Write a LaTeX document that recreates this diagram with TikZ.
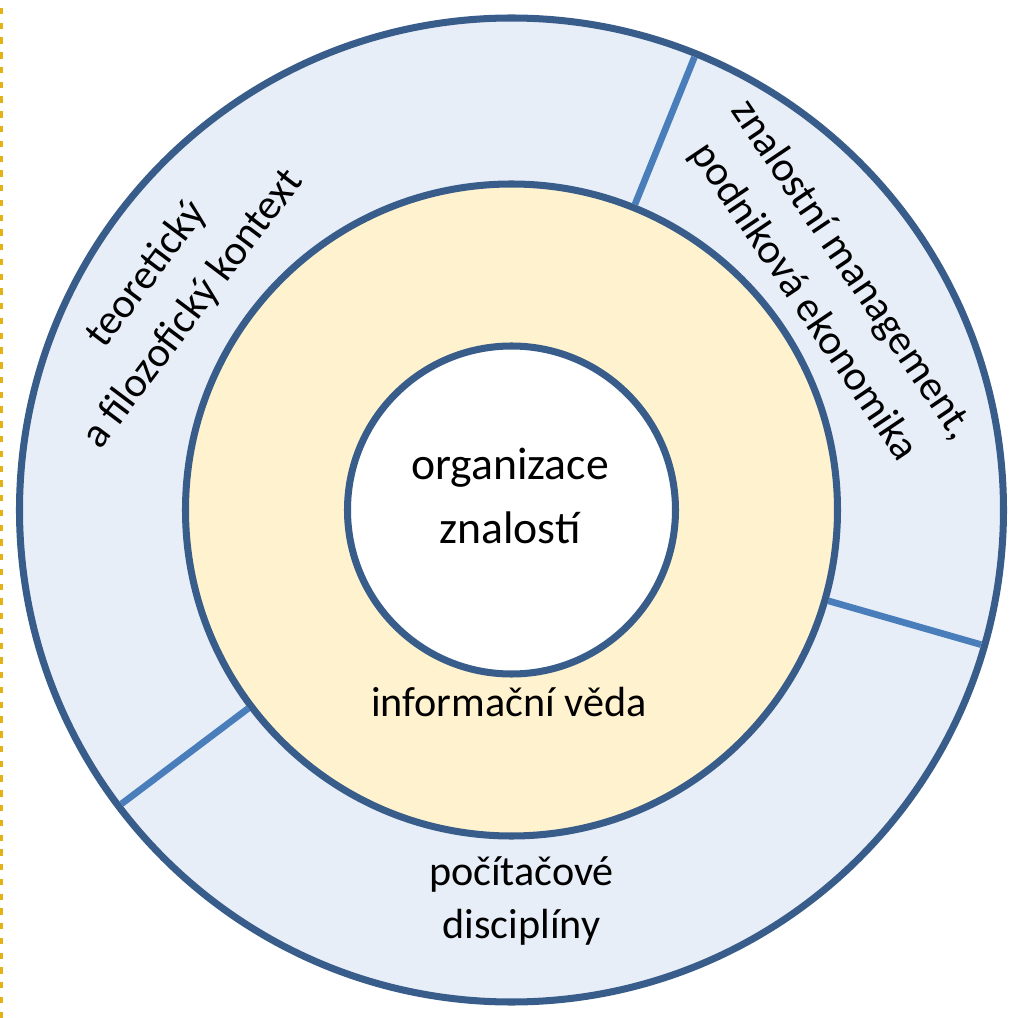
\documentclass[tikz,border=0pt]{standalone}
\usepackage{fontspec}
\setsansfont{Carlito}
\usepackage{tikz}
\usetikzlibrary{shapes}
\definecolor{ring_blue}{RGB}{56,93,138}
\definecolor{divider_blue}{RGB}{74,126,187}
\definecolor{lightblue}{RGB}{232,238,248}
\definecolor{lightyellow}{RGB}{255,242,206}
\definecolor{frame_gold}{RGB}{228,178,20}

\begin{document}
\begin{tikzpicture}
    \sffamily
    \tikzstyle{ring}=[draw=ring_blue, circle, line width=2pt, inner sep=0pt, outer sep=0pt]
    \tikzstyle{divider}=[draw=divider_blue, line width=1.9pt, shorten <=1pt, shorten >=1pt]
    \tikzstyle{txt}=[text=black, align=center, inner sep=0pt, font=\fontsize{12}{16.4}\selectfont]

    \useasboundingbox (0,0) rectangle (10.18,10.18);
    \draw[frame_gold, line width=0.9pt, dash pattern=on 1.8pt off 2.4pt] (0.015,0) -- (0.015,10.18);

    \node[ring, fill=lightblue, minimum size=9.84cm]  (OUT)  at (5.115,5.08) {};
    \node[ring, fill=lightyellow, minimum size=6.52cm] (MID)  at (5.115,5.08) {};
    \node[ring, fill=white, minimum size=3.28cm]       (CORE) at (5.115,5.08) {};

    \node[txt, font=\fontsize{13}{18.2}\selectfont] (ORG) at (5.10,5.225) {organizace\\znalostí};
    \node[txt, anchor=base] (INF) at (5.09,3.02) {informační věda};
    \node[txt, font=\fontsize{12}{14.8}\selectfont] (COMP) at (5.215,1.17) {počítačové\\disciplíny};
    \node[txt, rotate=53] (THEO) at (1.70,7.26) {teoretický\\a filozofický kontext};
    \node[txt, rotate=-56] (MGMT) at (8.275,7.32) {znalostní management,\\podniková ekonomika};

    \path
     (MID.68)    edge[divider] (OUT.68)
     (MID.-16.5) edge[divider] (OUT.-16.5)
     (MID.217.6) edge[divider] (OUT.217.6);
\end{tikzpicture}
\end{document}
